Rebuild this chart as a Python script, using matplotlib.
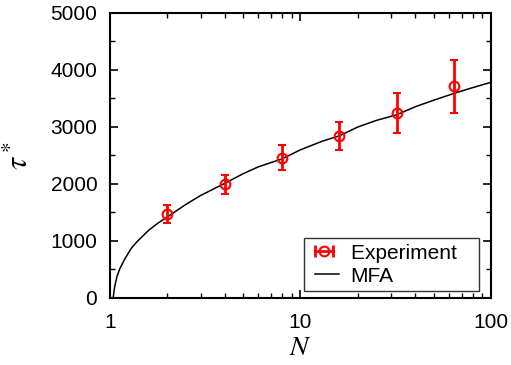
import matplotlib
matplotlib.use("Agg")
import matplotlib.pyplot as plt
from matplotlib.lines import Line2D
from matplotlib.legend_handler import HandlerLine2D
from matplotlib.ticker import LogLocator, MultipleLocator, FixedLocator, NullFormatter

plt.rcParams['font.family'] = ['Liberation Sans', 'DejaVu Sans']
plt.rcParams['mathtext.fontset'] = 'stix'

# Experimental points
n_exp = [2, 4, 8, 16, 32, 64]
tau_exp = [1474, 1995, 2461, 2842, 3246, 3712]
tau_err = [165, 170, 215, 245, 350, 460]

# MFA curve
n_mfa = [1.04, 1.06, 1.09, 1.13, 1.2, 1.3, 1.4, 1.6, 1.8, 2, 2.5, 3, 4, 5, 6, 8,
         10, 13, 16, 20, 25, 32, 40, 50, 64, 80, 100]
tau_mfa = [0, 200, 380, 520, 690, 880, 1000, 1190, 1320, 1420, 1640, 1800, 2010,
           2180, 2300, 2440, 2600, 2750, 2845, 3000, 3115, 3215, 3355, 3470,
           3590, 3690, 3785]

fig = plt.figure(figsize=(5.11, 3.65), dpi=100)
ax = fig.add_axes([0.215, 0.1836, 0.746, 0.7808])

ax.plot(n_mfa, tau_mfa, color='black', lw=1.1, zorder=2)
ax.errorbar(n_exp, tau_exp, yerr=tau_err, fmt='o', color='red', mfc='none',
            ms=7, mew=1.5, elinewidth=2, capsize=3, capthick=2, zorder=3)

ax.set_xscale('log')
ax.set_xlim(1, 100)
ax.set_ylim(0, 5000)
ax.xaxis.set_major_locator(FixedLocator([1, 10, 100]))
ax.xaxis.set_major_formatter(matplotlib.ticker.FixedFormatter(['1', '10', '100']))
ax.xaxis.set_minor_locator(LogLocator(base=10, subs=range(2, 10)))
ax.xaxis.set_minor_formatter(NullFormatter())
ax.yaxis.set_major_locator(MultipleLocator(1000))
ax.yaxis.set_minor_locator(MultipleLocator(500))

ax.tick_params(which='both', direction='in', top=True, right=True, labelsize=15)
ax.tick_params(which='major', length=6, width=1.2)
ax.tick_params(axis='y', which='major', pad=9)
ax.tick_params(axis='x', which='major', pad=11)
ax.tick_params(which='minor', length=3.5, width=1.0)
for s in ax.spines.values():
    s.set_linewidth(1.5)

ax.set_xlabel(r'$N$', fontsize=20, labelpad=2)
ax.set_ylabel(r'$\tau^*$', fontsize=22, labelpad=11)

# legend handle drawn as a horizontal error bar, like the reference
cap_line = Line2D([], [], color='red', lw=2, marker='|', ms=8, mew=2)
circ_line = Line2D([], [], color='red', lw=0, marker='o', mfc='none', ms=7, mew=1.5)
mfa_handle = Line2D([], [], color='black', lw=1.1)
leg = ax.legend([(cap_line, circ_line), mfa_handle], ['Experiment   ', 'MFA'],
                loc='lower right', bbox_to_anchor=(0.9685, 0.0246), fontsize=15,
                fancybox=False, edgecolor='#333333', framealpha=1,
                borderaxespad=0, handlelength=1.45, handletextpad=0.55,
                borderpad=0.25, labelspacing=0.2,
                handler_map={cap_line: HandlerLine2D(numpoints=2, xpad=0.3),
                             circ_line: HandlerLine2D(numpoints=1, xpad=0.3),
                             mfa_handle: HandlerLine2D(xpad=0.3)})
leg.get_frame().set_linewidth(1.0)

fig.savefig('out.png', dpi=100)
